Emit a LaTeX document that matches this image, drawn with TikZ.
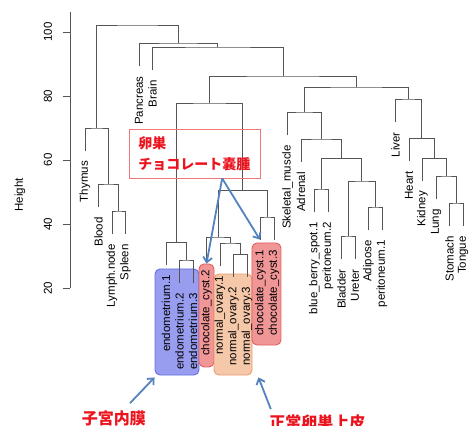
\documentclass[tikz,border=0pt]{standalone}
\usepackage{fontspec}
\setmainfont{Liberation Sans}
\newfontfamily\jp{Noto Sans CJK JP}
\usetikzlibrary{calc,arrows.meta}
\definecolor{branchgray}{RGB}{85,85,85}
\definecolor{noteblue}{RGB}{84,130,190}
\definecolor{notered}{RGB}{235,20,30}
\definecolor{noteframe}{RGB}{240,120,120}
\definecolor{endofill}{RGB}{152,157,240}
\definecolor{endoline}{RGB}{100,110,225}
\definecolor{cystfill}{RGB}{240,150,150}
\definecolor{cystline}{RGB}{225,95,95}
\definecolor{normfill}{RGB}{245,200,170}
\definecolor{normline}{RGB}{235,155,105}
\begin{document}
\begin{tikzpicture}[x=13.5pt,y=3.2pt,
    branch/.style={draw=branchgray,line width=0.7pt},
    leaflab/.style={rotate=90,anchor=east,inner sep=0pt,font=\fontsize{11.5}{13}\selectfont},
    grp/.style={rounded corners=5pt,line width=0.9pt,inner sep=0pt},
    note/.style={draw=noteblue,line width=1.8pt,-{Straight Barb[length=5pt,width=9pt]}},
    jplab/.style={text=notered,inner sep=0pt,font=\jp\bfseries\fontsize{16}{16}\selectfont}]
  \useasboundingbox (-5.2963,-23.125) rectangle (29.4444,110);

  % sample groups
  \node[grp,draw=endoline,fill=endofill,minimum width=44pt,minimum height=106pt] (endobox) at (7.815,9.375) {};
  \node[grp,draw=cystline,fill=cystfill,minimum width=15pt,minimum height=103pt] (c2box) at (10,11.41) {};
  \node[grp,draw=normline,fill=normfill,minimum width=38pt,minimum height=101pt] (normbox) at (11.963,8.59) {};
  \node[grp,draw=cystline,fill=cystfill,minimum width=29pt,minimum height=102pt] (ccbox) at (14.444,18.125) {};

  % axis
  \draw[branch] (-0.111,20) -- (-0.111,106.25);
  \foreach \v in {20,40,...,100}{
    \draw[branch] (-0.111,\v) -- (-0.63,\v);
    \node[rotate=90,font=\fontsize{11.5}{13}\selectfont] (tick\v) at (-1.74,\v) {\v};
  }
  \node[rotate=90,font=\fontsize{11.5}{13}\selectfont] (ylab) at (-3.815,49.06) {Height};

  % leaves: index / label / height of parent
  \foreach \i/\lab/\p in {1/Thymus/70, 2/Blood/52.5, 3/Lymph.node/44.06, 4/Spleen/44.06,
      5/Pancreas/96.56, 6/Brain/95.31, 7/endometrium.1/34.38, 8/endometrium.2/28.75,
      9/endometrium.3/28.75, 10/chocolate\_cyst.2/35.94, 11/normal\_ovary.1/34.06,
      12/normal\_ovary.2/30.63, 13/normal\_ovary.3/30.63, 14/chocolate\_cyst.1/42.19,
      15/chocolate\_cyst.3/42.19, 16/Skeletal\_muscle/75, 17/Adrenal/66.56,
      18/blue\_berry\_spot.1/50.94, 19/peritoneum.2/50.94, 20/Bladder/36.25, 21/Ureter/36.25,
      22/Adipose/45.31, 23/peritoneum.1/45.31, 24/Liver/79.06, 25/Heart/66.88,
      26/Kidney/60.63, 27/Lung/55, 28/Stomach/46.56, 29/Tongue/46.56}{
    \coordinate (l\i) at (\i,{\p-7.2});
    \node[leaflab] (lab\i) at ($(l\i)+(0,-10pt)$) {\lab};
  }

  % merges: left / right / name / height
  \foreach \a/\b/\m/\h in {l3/l4/ls/44.06, l2/ls/bls/52.5, l1/bls/thy/70,
      l8/l9/e23/28.75, l7/e23/endo/34.38, l12/l13/n23/30.63, l11/n23/norm/34.06,
      l10/norm/cn/35.94, l14/l15/cc/42.19, cn/cc/mid/50.63, endo/mid/ov/77.81,
      l20/l21/bu/36.25, l22/l23/ap/45.31, bu/ap/buap/53.44, l18/l19/bp/50.94,
      bp/buap/bpb/60.63, l17/bpb/adr/66.56, l16/adr/skm/75,
      l28/l29/st/46.56, l27/st/lung/55, l26/lung/kid/60.63, l25/kid/hrt/66.88,
      l24/hrt/liv/79.06, skm/liv/tis/82.81, ov/tis/big/86.25,
      l6/big/brn/95.31, l5/brn/pan/96.56, thy/pan/root/102.19}{
    \path let \p1=($(\a)!.5!(\b)$), \p2=(0,\h) in coordinate (\m) at (\x1,\y2);
    \draw[branch] (\a) |- (\m) -| (\b);
  }

  % notes
  \node[draw=noteframe,line width=0.8pt,minimum width=131pt,minimum height=49pt,align=left,
    text=notered,font=\jp\bfseries\fontsize{14}{21}\selectfont] (cystnote) at (9.111,62.03)
    {卵巣\\チョコレート嚢腫};
  \coordinate (notefoot) at ($(cystnote.south west)!0.71!(cystnote.south east)$);
  \draw[note] (notefoot) -- (c2box.north);
  \draw[note] (notefoot) -- ($(ccbox.north west)!0.28!(ccbox.north east)+(0,3pt)$);

  \node[jplab] (uterus) at (3.148,-20.625) {子宮内膜};
  \node[jplab] (epith) at (18.222,-21.875) {正常卵巣上皮};
  \draw[note] ($(uterus.north)+(16pt,7pt)$) -- ($(endobox.south west)+(0,-2pt)$);
  \draw[note] ($(epith.north west)+(1.5pt,5pt)$) -- ($(normbox.south east)+(6pt,-2pt)$);
\end{tikzpicture}
\end{document}
